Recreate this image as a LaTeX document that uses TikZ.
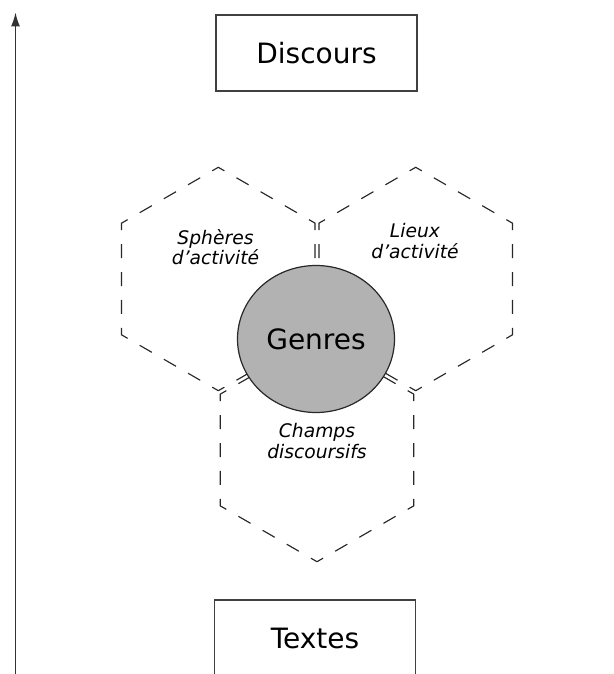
\documentclass[tikz,border=0pt]{standalone}
\usepackage{fontspec}
\setmainfont{DejaVu Sans}
\usetikzlibrary{arrows.meta,shapes.geometric}
\definecolor{edgegray}{RGB}{64,64,64}
\definecolor{dashgray}{RGB}{40,40,40}
\definecolor{genrefill}{RGB}{178,178,178}
\begin{document}
\begin{tikzpicture}[x=1pt,y=-1pt,
  levelbox/.style={draw=edgegray, line width=1.3pt, minimum width=201pt,
    minimum height=76pt, inner sep=0pt, font=\fontsize{28}{33}\selectfont},
  cell/.style={draw=dashgray, line width=1.15pt,
    dash pattern=on 14pt off 13.925pt, dash phase=7pt},
  cellname/.style={align=center, inner sep=0pt,
    font=\fontsize{18.7}{20.5}\selectfont\itshape},
  hub/.style={ellipse, draw=dashgray, line width=1.2pt, fill=genrefill,
    minimum width=157pt, minimum height=147pt, inner sep=0pt,
    font=\fontsize{28}{33}\selectfont},
  axis/.style={draw=black!80, line width=1.4pt,
    -{Latex[length=14pt,width=9pt]}}]
\useasboundingbox (0,0) rectangle (613,674);

% vertical axis from texts up to discourse
\coordinate (axisfoot) at (15.5,690);
\coordinate (axistop) at (15.5,12.5);
\draw[axis] (axisfoot) -- (axistop);

% three dashed hexagonal cells around a common vertex
\foreach \cx/\cy in {218.3/279, 415.7/279, 317/450}{
  \draw[cell, shift={(\cx,\cy)}]
    (90:111.7) -- (150:111.7) -- (210:111.7) -- (270:111.7)
    -- (330:111.7) -- (30:111.7) -- cycle;
}

% central genre disc
\node[hub] (genres) at (316,339) {Genres};

% cell labels
\node[cellname] (spheres) at (215.5,247) {Sphères\\d’activité};
\node[cellname] (lieux) at (415,241) {Lieux\\d’activité};
\node[cellname] (champs) at (317,441) {Champs\\discoursifs};

% top and bottom levels
\node[levelbox] (discours) at (316.5,53) {Discours};
\node[levelbox] (textes) at (315,638) {Textes};
\end{tikzpicture}
\end{document}
